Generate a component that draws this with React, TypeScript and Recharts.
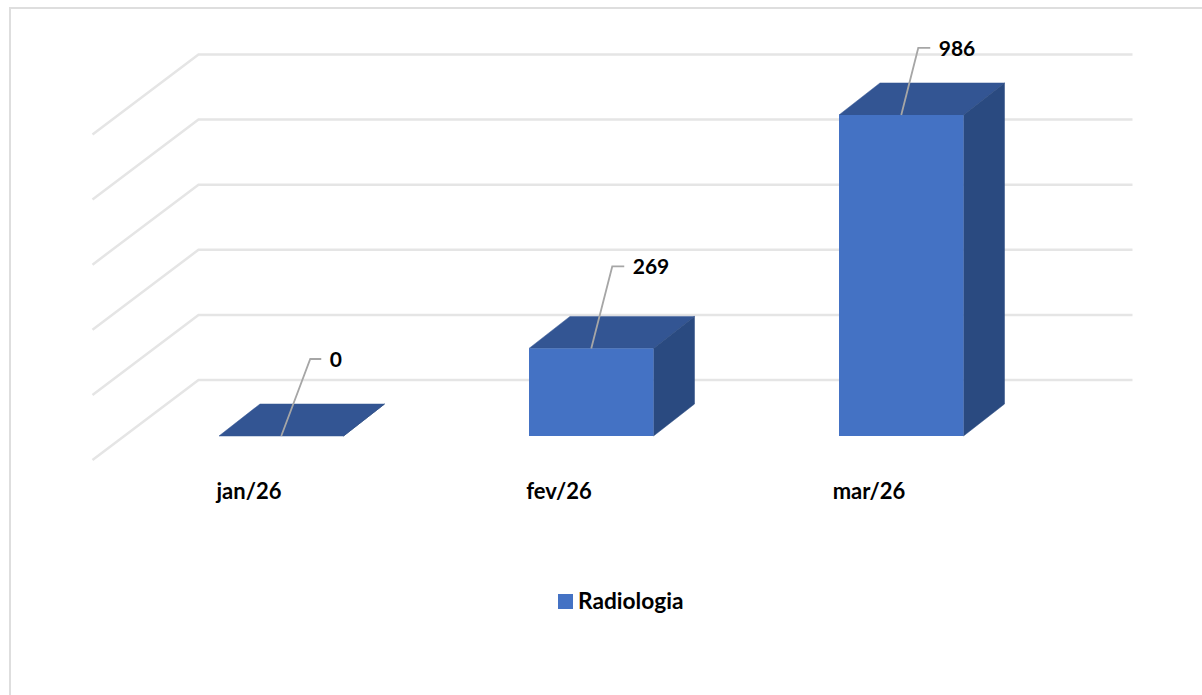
/**
 * Radiologia - 3D style column chart
 */

import { BarChart, Bar, XAxis, YAxis, CartesianGrid, Legend, LabelList } from 'recharts'

const months = ['jan/26', 'fev/26', 'mar/26']
const radiologia = [0, 269, 986]
const gridTicks = [0, 200, 400, 600, 800, 1000]

// leader line offsets from the top centre of each bar
const leaderDx = [29, 21, 17]
const leaderDy = [-77, -82, -67]
const leaderEnd = [11, 12, 12]

const chartData = months.map((month, i) => ({ month, radiologia: radiologia[i] }))

const FONT = 'Lato, sans-serif'
const DEPTH_X = 41
const DEPTH_Y = 32
const COLORS = {
  front: '#4472c4',
  top: '#335593',
  side: '#2a4a80',
  grid: '#e5e5e5',
  leader: '#a6a6a6',
  border: '#dedede',
}

function Column({ x, y, width, height }: any) {
  const r = x + width
  const b = y + height
  return (
    <g>
      <polygon
        points={`${x},${y} ${x + DEPTH_X},${y - DEPTH_Y} ${r + DEPTH_X},${y - DEPTH_Y} ${r},${y}`}
        fill={COLORS.top}
        stroke={COLORS.top}
        strokeWidth={0.5}
      />
      <polygon
        points={`${r},${y} ${r + DEPTH_X},${y - DEPTH_Y} ${r + DEPTH_X},${b - DEPTH_Y} ${r},${b}`}
        fill={COLORS.side}
        stroke={COLORS.side}
        strokeWidth={0.5}
      />
      <rect x={x} y={y} width={width} height={height} fill={COLORS.front} />
    </g>
  )
}

function GridLine({ x1, y1, x2 }: any) {
  const points = `${x1 - 33.5},${y1 + 24} ${x1 + 72.5},${y1 - 56} ${x2 + 76.5},${y1 - 56}`
  return <polyline points={points} fill="none" stroke={COLORS.grid} strokeWidth={2.5} />
}

function MonthTick({ x, y, payload }: any) {
  return (
    <text x={x - 32} y={y + 55} textAnchor="middle" fontFamily={FONT} fontSize={22} fontWeight={700} fill="#000">
      {payload.value}
    </text>
  )
}

function Leader({ x, y, width, value, index }: any) {
  const cx = x + width / 2
  const tx = cx + leaderDx[index]
  const ty = y + leaderDy[index]
  const ex = tx + leaderEnd[index]
  return (
    <g>
      <polyline points={`${cx},${y} ${tx},${ty} ${ex},${ty}`} fill="none" stroke={COLORS.leader} strokeWidth={1.8} />
      <text x={ex + 8.5} y={ty + 8} fontFamily={FONT} fontSize={21} fontWeight={700} fill="#000">
        {value}
      </text>
    </g>
  )
}

function LegendBox({ payload }: any) {
  const item = payload?.[0]
  if (!item) return null
  return (
    <div style={{ position: 'absolute', left: 558, top: 586, height: 30, display: 'flex', alignItems: 'center', whiteSpace: 'nowrap' }}>
      <span style={{ width: 15, height: 15, background: item.color, marginRight: 5 }} />
      <span style={{ fontFamily: FONT, fontSize: 22.7, fontWeight: 700, color: '#000', position: 'relative', top: -1 }}>
        {item.value}
      </span>
    </div>
  )
}

export default function App() {
  return (
    <div style={{ position: 'absolute', left: 0, top: 0, width: 1202, height: 695, overflow: 'hidden', background: '#fff' }}>
      <div
        style={{
          position: 'absolute',
          left: 9,
          top: 7,
          right: 0,
          bottom: 0,
          borderLeft: `2px solid ${COLORS.border}`,
          borderTop: `2px solid ${COLORS.border}`,
        }}
      />
      <div style={{ position: 'absolute', left: 0, top: 0 }}>
        <BarChart
          width={1202}
          height={695}
          data={chartData}
          margin={{ top: 110.4, right: 146, left: 126, bottom: 229 }}
        >
          <CartesianGrid vertical={false} horizontal={(props: any) => <GridLine key={props.key} {...props} />} />
          <XAxis dataKey="month" axisLine={false} tickLine={false} height={30} tick={MonthTick} interval={0} />
          <YAxis hide domain={[0, 1000]} ticks={gridTicks} />
          <Legend content={LegendBox} wrapperStyle={{ height: 0, width: 0, left: 0, top: 0, bottom: 'auto' }} />
          <Bar
            dataKey="radiologia"
            name="Radiologia"
            fill={COLORS.front}
            barSize={124.5}
            shape={Column}
            isAnimationActive={false}
          >
            <LabelList dataKey="radiologia" content={Leader} />
          </Bar>
        </BarChart>
      </div>
    </div>
  )
}
